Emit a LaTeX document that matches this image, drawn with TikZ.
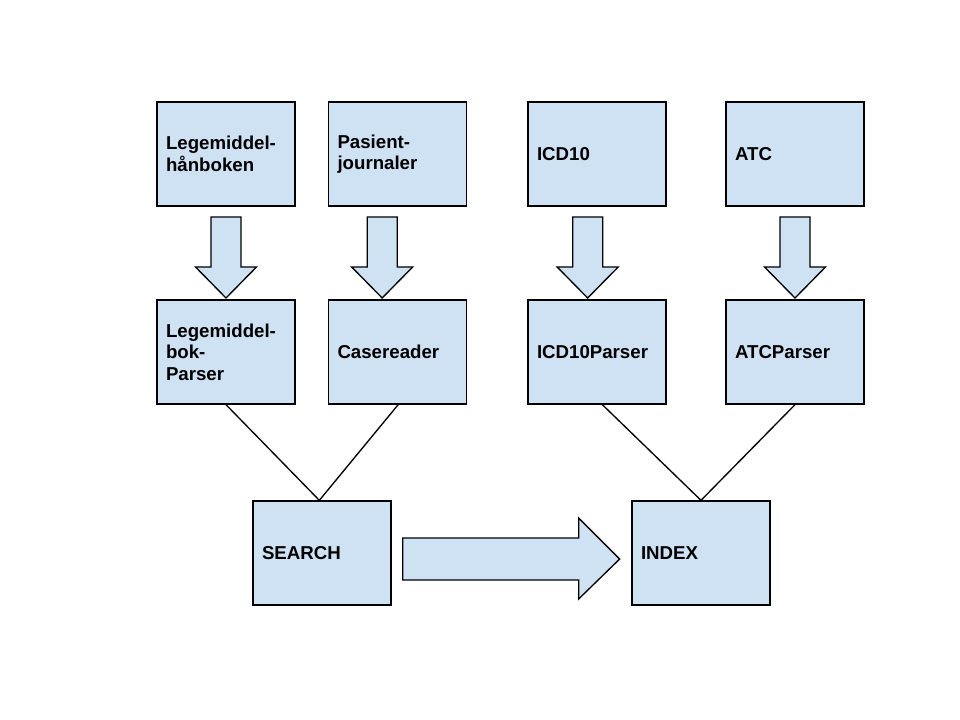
\documentclass[tikz,border=0pt]{standalone}
\usepackage{fontspec}
\setmainfont{Liberation Sans}
\usepackage{xcolor}
\definecolor{boxBlue}{HTML}{CFE2F3}
\usetikzlibrary{positioning,calc}

\begin{document}
\begin{tikzpicture}[
  x=0.75pt, y=-0.75pt,
  box/.style={draw, rectangle, line width=1pt, fill=boxBlue,
              minimum width=103.5pt, minimum height=78pt, inner xsep=6.75pt,
              text width=90pt, align=left,
              font=\fontsize{14}{16.1}\selectfont\bfseries},
  fat/.style={draw, line width=1pt, fill=boxBlue, line join=miter},
  line/.style={line width=1pt}
]
\useasboundingbox (0,0) rectangle (960,720);
% sources
\node[box] (lmh) at (226,154)   {Legemiddel-\\hånboken};
\node[box] (pj)  at (397.5,154) {Pasient-\\journaler};
\node[box] (icd) at (597,154)   {ICD10};
\node[box] (atc) at (795,154)   {ATC};
% parsers
\node[box] (lmp) at (226,352)   {Legemiddel-\\bok-\\Parser};
\node[box] (cr)  at (397.5,352) {Casereader};
\node[box] (icp) at (597,352)   {ICD10Parser};
\node[box] (atp) at (795,352)   {ATCParser};
% targets
\node[box] (search) at (322,553) {SEARCH};
\node[box] (index)  at (701,553) {INDEX};
% fat arrows down
\draw[fat] ([yshift=1]lmp.north) -- ++(-30.5,-31) -- ++(15.5,0) -- ++(0,-50) -- ++(30,0) -- ++(0,50) -- ++(15.5,0) -- cycle;
\draw[fat] ([xshift=-11.5,yshift=1]cr.north) -- ++(-30.5,-31) -- ++(15.5,0) -- ++(0,-50) -- ++(30,0) -- ++(0,50) -- ++(15.5,0) -- cycle;
\draw[fat] ([xshift=-7,yshift=1]icp.north) -- ++(-30.5,-31) -- ++(15.5,0) -- ++(0,-50) -- ++(30,0) -- ++(0,50) -- ++(15.5,0) -- cycle;
\draw[fat] ([yshift=1]atp.north) -- ++(-30.5,-31) -- ++(15.5,0) -- ++(0,-50) -- ++(30,0) -- ++(0,50) -- ++(15.5,0) -- cycle;
% connectors
\draw[line] (lmp.south) -- ([xshift=-2]search.north);
\draw[line] ([xshift=0.5]cr.south) -- ([xshift=-2]search.north);
\draw[line] ([xshift=4]icp.south) -- (index.north);
\draw[line] (atp.south) -- (index.north);
% fat arrow right
\draw[fat] ([shift={(11,6)}]search.east) -- ++(0,-21) -- ++(176,0) -- ++(0,-20) -- ++(41,41) -- ++(-41,40) -- ++(0,-19) -- ++(-176,0) -- cycle;
\end{tikzpicture}
\end{document}
